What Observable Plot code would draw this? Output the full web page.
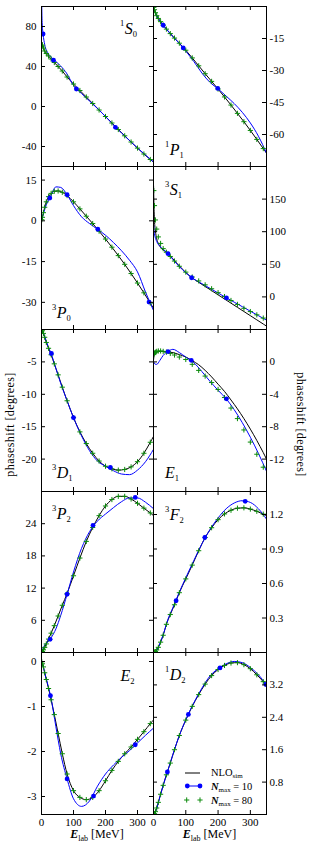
<!DOCTYPE html>
<html>
<head>
<meta charset="utf-8">
<script src="https://cdn.jsdelivr.net/npm/d3@7"></script>
<script src="https://cdn.jsdelivr.net/npm/@observablehq/plot@0.6"></script>
<style>
  body { margin: 0; background: #fff; }
  #fig { position: relative; width: 309px; height: 849px; background: #fff; }
</style>
</head>
<body>
<div id="fig"></div>
<script>
// ---------------- data ----------------
const eLine = [0.3, 1, 3, 6, 10, 15, 22, 30, 40, 52, 65, 80, 100, 120, 140, 160, 180, 200, 220, 240, 260, 280, 300, 320, 340, 350];
const eBlue = [0.3, 2, 5, 10, 20, 30, 45, 60, 80, 100, 125, 150, 175, 200, 225, 250, 275, 300, 325, 350];
const eN80 = [1, 3, 6, 10, 15, 22, 30, 40, 52, 65, 80, 100, 120, 140, 160, 180, 200, 220, 240, 260, 280, 300, 320, 340];
const xTicks = [0, 100, 200, 300];

// 1S0
const ticks_1S0 = [80, 40, 0, -40];
const nlo_1S0 = [64, 64.5, 62, 58.5, 55.5, 53, 50.5, 47.5, 44, 40, 35.5, 29.5, 22.5, 16, 9.5, 3, -3.5, -10, -16.5, -23, -29.3, -35.5, -41.6, -47.5, -53, -55.5];
const n80_1S0 = [60, 61.5, 58.5, 55.5, 53, 50.5, 47.5, 44, 40, 35.5, 29.5, 22.5, 16, 9.5, 3, -3.5, -10, -16.5, -23, -29.3, -35.5, -41.6, -47.5, -53];
const n10_1S0 = [110, 84, 72.5, 62, 53.5, 49.5, 45, 40.5, 32.5, 21, 13, 5.5, -2, -10, -18.5, -26.5, -34, -41.5, -48.5, -55.5];
const dotE_1S0 = [5, 37.5, 109, 231];
const dotV_1S0 = [72.5, 46.3, 17.5, -20.8];

// 1P1
const ticks_1P1 = [-15, -30, -45, -60];
const nlo_1P1 = [-0.1, -0.4, -1.5, -2.9, -4.3, -5.6, -7.1, -8.7, -10.6, -12.7, -14.8, -17.2, -20.5, -24.1, -27.8, -31.5, -35.1, -38.7, -42.4, -46.2, -50.1, -54, -58.1, -62.3, -66.6, -68.7];
const n80_1P1 = [-0.4, -1.5, -2.9, -4.3, -5.6, -7.1, -8.7, -10.6, -12.7, -14.8, -17.2, -20.5, -24.1, -27.8, -31.5, -35.1, -38.7, -42.4, -46.2, -50.1, -54, -58.1, -62.3, -66.6];
const n10_1P1 = [-0.1, -1, -2.5, -4.3, -6.8, -8.8, -11.5, -14.1, -17.3, -20.9, -25.8, -31.2, -35.6, -38.6, -42, -45.5, -49.6, -54.6, -60.8, -68.7];
const dotE_1P1 = [30, 92, 199];
const dotV_1P1 = [-8.8, -19.4, -38.4];

// 3P0
const ticks_3P0 = [15, 0, -15, -30];
const nlo_3P0 = [0.1, 0.4, 1.3, 3.0, 5.0, 7.0, 8.9, 10.1, 10.9, 11.0, 10.5, 9.3, 7.0, 4.4, 1.7, -1.0, -3.8, -6.7, -9.7, -12.8, -16.0, -19.4, -22.9, -26.5, -30.3, -32.2];
const n80_3P0 = [0.4, 1.3, 3.0, 5.0, 7.0, 8.9, 10.1, 10.9, 11.0, 10.5, 9.3, 7.0, 4.4, 1.7, -1.0, -3.8, -6.7, -9.7, -12.8, -16.0, -19.4, -22.9, -26.5, -30.3];
const n10_3P0 = [0.1, 0.8, 2.2, 4.3, 7.2, 9.4, 12.5, 12.3, 9.6, 5.6, 1.5, -1.0, -3.1, -5.3, -8.0, -11.0, -14.5, -18.8, -26.2, -33.0];
const dotE_3P0 = [26, 80, 176, 336];
const dotV_3P0 = [8.4, 9.6, -3.1, -29.9];

// 3S1
const ticks_3S1 = [150, 100, 50, 0];
const nlo_3S1 = [170, 150, 118, 101, 89, 82, 76, 72, 68.5, 63, 55.5, 47.5, 37.5, 29, 22.4, 16, 9.6, 3.2, -3.2, -9.6, -16, -22.4, -28.8, -35.2, -41.6, -44.8];
const n80_3S1 = [163, 140, 118, 104, 92, 82, 74, 68.5, 62, 55, 47, 38, 30.5, 24.5, 18.5, 12.5, 6.5, 0.5, -5.5, -11.5, -17.5, -22.5, -27.5, -32.5];
const n10_3S1 = [110, 100, 92, 85, 77.5, 73, 66.5, 57.5, 46.5, 37, 27.4, 20.3, 13.1, 6.0, -1.2, -8.1, -15, -21.9, -28.8, -35.6];
const dotE_3S1 = [45, 118, 226];
const dotV_3S1 = [66.5, 29.4, -1.5];

// 3D1
const ticks_3D1 = [-5, -10, -15, -20];
const nlo_3D1 = [0, -0.05, -0.2, -0.6, -1.2, -2.0, -2.9, -3.9, -5.3, -7.0, -8.9, -11.0, -13.6, -15.8, -17.6, -19.1, -20.3, -21.1, -21.5, -21.7, -21.6, -21.2, -20.4, -19.1, -17.4, -16.5];
const n80_3D1 = [-0.05, -0.2, -0.6, -1.2, -2.0, -2.9, -3.9, -5.3, -7.0, -8.9, -11.0, -13.6, -15.8, -17.6, -19.1, -20.3, -21.1, -21.5, -21.7, -21.6, -21.2, -20.4, -19.1, -17.4];
const n10_3D1 = [0, -0.1, -0.45, -1.1, -2.5, -3.7, -6.0, -8.3, -11.0, -13.6, -16.4, -18.7, -20.3, -21.1, -21.8, -22.3, -22.4, -21.7, -20.4, -18.5];
const dotE_3D1 = [31, 100, 215];
const dotV_3D1 = [-3.7, -13.6, -21.3];

// E1
const ticks_E1 = [0, -4, -8, -12];
const nlo_E1 = [0.3, 0.6, 0.9, 1.1, 1.2, 1.28, 1.3, 1.3, 1.27, 1.2, 1.1, 0.9, 0.6, 0.15, -0.35, -1.05, -1.85, -2.75, -3.65, -4.7, -5.8, -7.0, -8.3, -9.7, -11.2, -12.0];
const n80_E1 = [0.9, 1.1, 1.2, 1.3, 1.35, 1.35, 1.3, 1.2, 1.05, 0.85, 0.6, 0.3, -0.3, -1.05, -1.75, -2.55, -3.4, -4.4, -5.7, -7.0, -8.4, -9.9, -11.4, -13.0];
const n10_E1 = [0, -0.12, -0.28, -0.3, 0.2, 0.8, 1.3, 1.55, 1.15, 0.6, -0.1, -1.2, -2.4, -3.5, -4.55, -5.9, -7.5, -9.3, -11.3, -13.5];
const dotE_E1 = [45, 117, 226];
const dotV_E1 = [1.27, 0.2, -4.56];

// 3P2
const ticks_3P2 = [24, 18, 12, 6];
const nlo_3P2 = [0, 0.05, 0.2, 0.5, 0.95, 1.6, 2.5, 3.6, 5.0, 6.8, 8.8, 11.0, 14.3, 17.6, 20.7, 23.3, 25.5, 27.3, 28.5, 29.1, 29.1, 28.6, 27.8, 26.9, 26.0, 25.5];
const n80_3P2 = [0.05, 0.2, 0.5, 0.95, 1.6, 2.5, 3.6, 5.0, 6.8, 8.8, 11.0, 14.3, 17.6, 20.7, 23.3, 25.5, 27.3, 28.5, 29.1, 29.1, 28.6, 27.8, 26.9, 26.0];
const n10_3P2 = [0, 0.3, 0.8, 1.4, 2.0, 2.75, 4.4, 6.9, 10.85, 15.0, 19.4, 22.5, 24.5, 25.8, 27.0, 28.1, 28.8, 28.8, 28.0, 26.8];
const dotE_3P2 = [27, 80, 161, 293];
const dotV_3P2 = [2.45, 10.85, 23.7, 28.9];

// 3F2
const ticks_3F2 = [1.2, 0.9, 0.6, 0.3];
const nlo_3F2 = [0, 0, 0.002, 0.008, 0.022, 0.045, 0.09, 0.15, 0.245, 0.33, 0.415, 0.52, 0.64, 0.76, 0.885, 1.0, 1.085, 1.155, 1.205, 1.237, 1.255, 1.258, 1.247, 1.228, 1.203, 1.19];
const n80_3F2 = [0, 0.002, 0.008, 0.022, 0.045, 0.09, 0.15, 0.245, 0.33, 0.415, 0.52, 0.64, 0.76, 0.885, 1.0, 1.085, 1.155, 1.205, 1.237, 1.255, 1.258, 1.247, 1.228, 1.203];
const n10_3F2 = [0, 0, 0.005, 0.02, 0.08, 0.155, 0.29, 0.39, 0.525, 0.65, 0.8, 0.945, 1.07, 1.17, 1.25, 1.3, 1.32, 1.305, 1.25, 1.16];
const dotE_3F2 = [70, 159, 284];
const dotV_3F2 = [0.45, 1.0, 1.315];

// E2
const ticks_E2 = [0, -1, -2, -3];
const nlo_E2 = [0, -0.01, -0.05, -0.12, -0.25, -0.4, -0.6, -0.85, -1.18, -1.6, -2.05, -2.5, -2.87, -3.02, -3.07, -3.02, -2.87, -2.65, -2.42, -2.22, -2.05, -1.9, -1.73, -1.56, -1.38, -1.3];
const n80_E2 = [-0.01, -0.05, -0.12, -0.25, -0.4, -0.6, -0.85, -1.18, -1.6, -2.05, -2.5, -2.87, -3.02, -3.07, -3.02, -2.87, -2.65, -2.42, -2.22, -2.05, -1.9, -1.73, -1.56, -1.38];
const n10_E2 = [0, -0.03, -0.1, -0.25, -0.52, -0.82, -1.45, -2.05, -2.61, -3.05, -3.22, -3.1, -2.77, -2.5, -2.3, -2.13, -1.98, -1.81, -1.64, -1.48];
const dotE_E2 = [28, 80, 162.5, 293];
const dotV_E2 = [-0.76, -2.61, -2.99, -1.85];

// 1D2
const ticks_1D2 = [3.2, 2.4, 1.6, 0.8];
const nlo_1D2 = [0, 0, 0.02, 0.07, 0.16, 0.3, 0.5, 0.72, 0.98, 1.27, 1.6, 1.95, 2.33, 2.67, 2.96, 3.22, 3.43, 3.58, 3.68, 3.74, 3.75, 3.7, 3.6, 3.45, 3.28, 3.19];
const n80_1D2 = [0, 0.02, 0.07, 0.16, 0.3, 0.5, 0.72, 0.98, 1.27, 1.6, 1.95, 2.33, 2.67, 2.96, 3.22, 3.43, 3.58, 3.68, 3.74, 3.75, 3.7, 3.6, 3.45, 3.28];
const n10_1D2 = [0, 0.01, 0.05, 0.15, 0.44, 0.72, 1.1, 1.48, 1.95, 2.34, 2.76, 3.12, 3.42, 3.6, 3.72, 3.78, 3.75, 3.63, 3.45, 3.2];
const dotE_1D2 = [43, 108, 206, 348];
const dotV_1D2 = [1.05, 2.47, 3.62, 3.21];

// ---------------- layout ----------------
const SERIF = '"Liberation Serif", "DejaVu Serif", serif';
const GREEN = "#0a8a0a";
const BLUE = "#0000ff";
const rowTops = [6, 166, 329, 491, 652, 814];

const panels = [
  {col: 0, row: 0, y: [-60, 100], ticks: ticks_1S0, nlo: nlo_1S0, n80: n80_1S0, n10: n10_1S0, dE: dotE_1S0, dV: dotV_1S0, lab: ["1", "S", "0"], lx: 120, ly: 34},
  {col: 1, row: 0, y: [-75, 0], ticks: ticks_1P1, nlo: nlo_1P1, n80: n80_1P1, n10: n10_1P1, dE: dotE_1P1, dV: dotV_1P1, lab: ["1", "P", "1"], lx: 165, ly: 155},
  {col: 0, row: 1, y: [-40, 20], ticks: ticks_3P0, nlo: nlo_3P0, n80: n80_3P0, n10: n10_3P0, dE: dotE_3P0, dV: dotV_3P0, lab: ["3", "P", "0"], lx: 52, ly: 318},
  {col: 1, row: 1, y: [-50, 200], ticks: ticks_3S1, nlo: nlo_3S1, n80: n80_3S1, n10: n10_3S1, dE: dotE_3S1, dV: dotV_3S1, lab: ["3", "S", "1"], lx: 165, ly: 195},
  {col: 0, row: 2, y: [-25, 0], ticks: ticks_3D1, nlo: nlo_3D1, n80: n80_3D1, n10: n10_3D1, dE: dotE_3D1, dV: dotV_3D1, lab: ["3", "D", "1"], lx: 52, ly: 478},
  {col: 1, row: 2, y: [-16, 4], ticks: ticks_E1, nlo: nlo_E1, n80: n80_E1, n10: n10_E1, dE: dotE_E1, dV: dotV_E1, lab: ["", "E", "1"], lx: 165, ly: 478},
  {col: 0, row: 3, y: [0, 30], ticks: ticks_3P2, nlo: nlo_3P2, n80: n80_3P2, n10: n10_3P2, dE: dotE_3P2, dV: dotV_3P2, lab: ["3", "P", "2"], lx: 52, ly: 519},
  {col: 1, row: 3, y: [0, 1.4], ticks: ticks_3F2, nlo: nlo_3F2, n80: n80_3F2, n10: n10_3F2, dE: dotE_3F2, dV: dotV_3F2, lab: ["3", "F", "2"], lx: 165, ly: 520},
  {col: 0, row: 4, y: [-3.4, 0.2], ticks: ticks_E2, nlo: nlo_E2, n80: n80_E2, n10: n10_E2, dE: dotE_E2, dV: dotV_E2, lab: ["", "E", "2"], lx: 120.5, ly: 681},
  {col: 1, row: 4, y: [0, 4], ticks: ticks_1D2, nlo: nlo_1D2, n80: n80_1D2, n10: n10_1D2, dE: dotE_1D2, dV: dotV_1D2, lab: ["1", "D", "2"], lx: 165, ly: 680}
];

const fmt = d => (d < 0 ? "-" : "") + String(Math.abs(d));
const fig = document.getElementById("fig");

function drawPanel(p) {
  const left = p.col === 0;
  const top = rowTops[p.row], bot = rowTops[p.row + 1];
  const ph = bot - top;
  const last = p.row === 4;
  const W = left ? 154 : 157;
  const ml = left ? 41 : 1, mr = left ? 1 : 43;
  const mb = last ? 34 : 1;
  const H = ph + 1 + mb;
  const pw = W - ml - mr;
  const nlo = eLine.map((e, i) => ({e, v: p.nlo[i]}));
  const n10 = eBlue.map((e, i) => ({e, v: p.n10[i]}));
  const n80 = eN80.map((e, i) => ({e, v: p.n80[i]}));
  const dots = p.dE.map((e, i) => ({e, v: p.dV[i]}));
  const marks = [
    Plot.line(nlo, {x: "e", y: "v", stroke: "#000", strokeWidth: 1, curve: "monotone-x", clip: true}),
    Plot.line(n10, {x: "e", y: "v", stroke: BLUE, strokeWidth: 1, curve: "monotone-x", clip: true}),
    Plot.dot(n80, {x: "e", y: "v", symbol: "plus", r: 1.8, stroke: GREEN, strokeWidth: 1, clip: true}),
    Plot.dot(dots, {x: "e", y: "v", r: 2.4, fill: BLUE, stroke: "none", clip: true}),
    Plot.tickY(p.ticks, {y: d => d, insetRight: pw - 4, stroke: "#000"}),
    Plot.tickY(p.ticks, {y: d => d, insetLeft: pw - 4, stroke: "#000"}),
    Plot.tickX(xTicks, {x: d => d, insetBottom: ph - 4, stroke: "#000"}),
    Plot.tickX(xTicks, {x: d => d, insetTop: ph - 4, stroke: "#000"}),
    Plot.frame({stroke: "#000", strokeWidth: 1}),
    Plot.axisY(p.ticks, {anchor: left ? "left" : "right", label: null, tickSize: 0, tickPadding: left ? 5 : 3, tickFormat: fmt, fontSize: 11, fontFamily: SERIF})
  ];
  if (last) marks.push(Plot.axisX(xTicks, {anchor: "bottom", label: null, tickSize: 0, tickPadding: 4, tickFormat: fmt, fontSize: 11, fontFamily: SERIF}));
  const svg = Plot.plot({
    width: W, height: H,
    marginTop: 1, marginBottom: mb, marginLeft: ml, marginRight: mr,
    x: {domain: [0, 350], axis: null, label: null},
    y: {domain: p.y, axis: null, label: null},
    style: {background: "none", overflow: "visible", fontFamily: SERIF},
    marks
  });
  const div = document.createElement("div");
  div.style.cssText = `position:absolute;left:${left ? 0 : 152}px;top:${top - 1}px;width:${W}px;height:${H}px;`;
  div.appendChild(svg);
  fig.appendChild(div);
}
panels.forEach(drawPanel);

// ---------------- text overlay: panel labels, axis titles, legend ----------------
const ov = d3.select(fig).append("svg")
  .attr("width", 309).attr("height", 849)
  .style("position", "absolute").style("left", "0px").style("top", "0px")
  .style("pointer-events", "none")
  .attr("font-family", SERIF).attr("fill", "#000");

panels.forEach(p => {
  const [sup, main, sub] = p.lab;
  const t = ov.append("text").attr("x", p.lx).attr("y", p.ly).attr("font-size", 16);
  if (sup) t.append("tspan").attr("font-size", 8.5).attr("dy", -8).text(sup);
  t.append("tspan").attr("font-style", "italic").attr("dy", sup ? 8 : 0).attr("dx", sup ? 0.5 : 0).text(main);
  t.append("tspan").attr("font-size", 8.5).attr("dy", 3).text(sub);
});

// y titles
ov.append("text").attr("transform", "translate(14,424.5) rotate(-90)")
  .attr("text-anchor", "middle").attr("font-size", 12).attr("letter-spacing", 0.4)
  .text("phaseshift [degrees]");
ov.append("text").attr("transform", "translate(297,424.5) rotate(90)")
  .attr("text-anchor", "middle").attr("font-size", 12).attr("letter-spacing", 0.4)
  .text("phaseshift [degrees]");

// x titles
[97, 209.5].forEach(cx => {
  const t = ov.append("text").attr("x", cx).attr("y", 838).attr("text-anchor", "middle").attr("font-size", 12);
  t.append("tspan").attr("font-weight", "bold").attr("font-style", "italic").text("E");
  t.append("tspan").attr("font-size", 8).attr("dy", 2.5).text("lab");
  t.append("tspan").attr("dy", -2.5).text(" [MeV]");
});

// legend
const lg = ov.append("g");
lg.append("line").attr("x1", 185).attr("x2", 200).attr("y1", 773).attr("y2", 773).attr("stroke", "#000").attr("stroke-width", 1);
lg.append("line").attr("x1", 187.3).attr("x2", 200).attr("y1", 786).attr("y2", 786).attr("stroke", BLUE).attr("stroke-width", 1);
[187.3, 200].forEach(x => lg.append("circle").attr("cx", x).attr("cy", 786).attr("r", 2.4).attr("fill", BLUE));
[186.7, 200].forEach(x => lg.append("path").attr("d", `M${x - 2.6},800H${x + 2.6}M${x},${800 - 2.6}V${800 + 2.6}`).attr("stroke", GREEN).attr("stroke-width", 1).attr("fill", "none"));
{
  const t1 = lg.append("text").attr("x", 211).attr("y", 776).attr("font-size", 10.5);
  t1.append("tspan").text("NLO");
  t1.append("tspan").attr("font-size", 7).attr("dy", 2).text("sim");
  [["10", 790], ["80", 804]].forEach(([n, y]) => {
    const t = lg.append("text").attr("x", 211).attr("y", y).attr("font-size", 10.5);
    t.append("tspan").attr("font-weight", "bold").attr("font-style", "italic").text("N");
    t.append("tspan").attr("font-size", 7).attr("dy", 2).text("max");
    t.append("tspan").attr("dy", -2).text(" = " + n);
  });
}
</script>
</body>
</html>
